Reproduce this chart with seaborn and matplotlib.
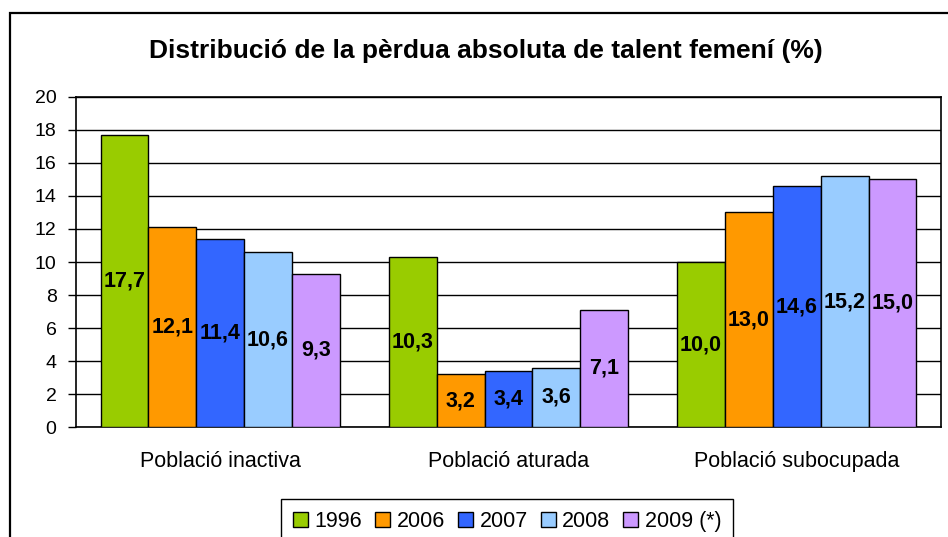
import matplotlib
matplotlib.use("Agg")
import matplotlib.pyplot as plt
from matplotlib.patches import Patch, Rectangle
import pandas as pd
import seaborn as sns

categories = ["Població inactiva", "Població aturada", "Població subocupada"]
years = ["1996", "2006", "2007", "2008", "2009 (*)"]
v1996 = [17.7, 10.3, 10.0]
v2006 = [12.1, 3.2, 13.0]
v2007 = [11.4, 3.4, 14.6]
v2008 = [10.6, 3.6, 15.2]
v2009 = [9.3, 7.1, 15.0]
colors = ["#99CC00", "#FF9900", "#3366FF", "#99CCFF", "#CC99FF"]

sns.set_theme(style="white")
plt.rcParams["font.family"] = ["Liberation Sans", "DejaVu Sans"]
plt.rcParams["text.color"] = "black"
plt.rcParams["xtick.color"] = "black"
plt.rcParams["ytick.color"] = "black"

rows = []
for year, vals in zip(years, [v1996, v2006, v2007, v2008, v2009]):
    for cat, v in zip(categories, vals):
        rows.append({"cat": cat, "year": year, "val": v})
df = pd.DataFrame(rows)

fig = plt.figure(figsize=(9.48, 5.37), dpi=100)
ax = fig.add_axes([0.0802, 0.2048, 0.9124, 0.6146])

sns.barplot(data=df, x="cat", y="val", hue="year", hue_order=years,
            palette=colors, width=0.83, edgecolor="black", linewidth=1,
            saturation=1, legend=False, ax=ax, zorder=3)

for cont in ax.containers:
    labs = [f"{b.get_height():.1f}".replace(".", ",") for b in cont]
    ax.bar_label(cont, labels=labs, label_type="center", fontsize=15.5,
                 fontweight="bold", color="black")

ax.set_ylim(0, 20)
ax.set_yticks(range(0, 21, 2))
ax.yaxis.grid(True, color="black", linewidth=1, zorder=0)
ax.set_axisbelow(True)
ax.set_xlabel("")
ax.set_ylabel("")
for s in ax.spines.values():
    s.set_color("black")
    s.set_linewidth(1.2)
ax.tick_params(axis="y", left=True, length=6, width=1, color="black",
               direction="out", labelsize=14, labelcolor="black", pad=8)
ax.tick_params(axis="x", length=0, labelsize=15.5, labelcolor="black", pad=17)

fig.text(0.513, 0.905, "Distribució de la pèrdua absoluta de talent femení (%)",
         ha="center", va="center", fontsize=19, fontweight="bold",
         color="black")

handles = [Patch(facecolor=c, edgecolor="black", linewidth=1) for c in colors]
leg = fig.legend(handles, years, loc="upper center", ncol=5,
                 bbox_to_anchor=(0.535, 0.0708), borderaxespad=0,
                 fontsize=15.5, handlelength=0.7, handleheight=0.7,
                 handletextpad=0.3, columnspacing=0.6, borderpad=0.55,
                 fancybox=False, framealpha=1, edgecolor="black")
leg.get_frame().set_linewidth(1)
for t in leg.get_texts():
    t.set_color("black")

fig.patches.append(Rectangle((10 / 948, -0.1), 2, 1.1 - 13 / 537,
                             transform=fig.transFigure, fill=False,
                             edgecolor="black", linewidth=1.6))

fig.savefig("out.png", dpi=100)
